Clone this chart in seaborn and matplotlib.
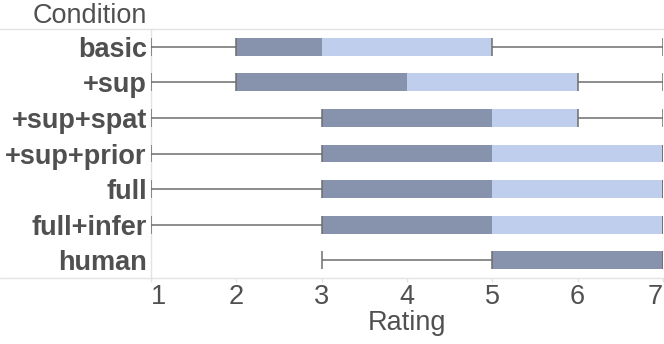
import pandas as pd
import matplotlib
matplotlib.use("Agg")
import matplotlib.pyplot as plt
from matplotlib.lines import Line2D
import seaborn as sns

# Box summaries (rating scale 1-7)
conditions = ['basic', '+sup', '+sup+spat', '+sup+prior', 'full', 'full+infer', 'human']
mins = [1, 1, 1, 1, 1, 1, 3]
q1s = [2, 2, 3, 3, 3, 3, 5]
medians = [3, 4, 5, 5, 5, 5, 7]
q3s = [5, 6, 6, 7, 7, 7, 7]
maxs = [7, 7, 7, 7, 7, 7, 7]
rating_ticks = [1, 2, 3, 4, 5, 6, 7]

df = pd.DataFrame({'Condition': conditions, 'min': mins, 'q1': q1s,
                   'median': medians, 'q3': q3s, 'max': maxs})

sns.set_theme(style='white')
plt.rcParams['font.family'] = ['Liberation Sans', 'DejaVu Sans']

dark = '#8792ad'
light = '#bfceec'
rule = '#6e6e6e'
grid = '#e3e3e3'
text = '#505050'

W, H = 664, 344
fig = plt.figure(figsize=(W / 100, H / 100), dpi=100)
ax = fig.add_axes([151 / W, 1 - 278 / H, 512 / W, 249 / H])

# layered bars: light up to q3, dark up to median, white up to q1
sns.barplot(data=df, x='q3', y='Condition', orient='h', color=light, saturation=1,
            width=0.5, linewidth=0, errorbar=None, ax=ax)
sns.barplot(data=df, x='median', y='Condition', orient='h', color=dark, saturation=1,
            width=0.5, linewidth=0, errorbar=None, ax=ax)
sns.barplot(data=df, x='q1', y='Condition', orient='h', color='white', saturation=1,
            width=0.5, linewidth=0, errorbar=None, ax=ax)

ypos = range(len(conditions))
ax.hlines(ypos, df['min'], df['q1'], color=rule, lw=1.1, zorder=3)
ax.hlines(ypos, df['q3'], df['max'], color=rule, lw=1.1, zorder=3)
for col in ['min', 'q1', 'q3', 'max']:
    ax.vlines(df[col], [y - 0.25 for y in ypos], [y + 0.25 for y in ypos],
              color=rule, lw=1.1, zorder=3)

ax.set_xlim(1, 7)
ax.set_ylim(6.5, -0.5)
ax.set_xticks(rating_ticks)
ax.set_xticklabels([str(t) for t in rating_ticks], fontsize=19.5, color=text)
for i, lab in enumerate(ax.get_xticklabels()):
    if i == 0:
        lab.set_ha('left')
    elif i == len(rating_ticks) - 1:
        lab.set_ha('right')
ax.tick_params(axis='x', bottom=True, length=3, width=1, color=grid, pad=1.5)
ax.tick_params(axis='y', left=False, length=0, pad=3)
for lab in ax.get_yticklabels():
    lab.set_fontsize(19.5)
    lab.set_fontweight('bold')
    lab.set_color(text)

ax.set_xlabel('Rating', fontsize=19.5, color=text, labelpad=0)
ax.set_ylabel('')
for s in ['top', 'right', 'bottom']:
    ax.spines[s].set_visible(False)
ax.spines['left'].set_color(grid)
ax.spines['left'].set_linewidth(1)

# header and bottom rules spanning the full width
for yy in [29, 278]:
    fig.add_artist(Line2D([0, 1], [1 - yy / H, 1 - yy / H], color=grid, lw=1))
fig.text(147 / W, 1 - 23 / H, 'Condition', ha='right', va='baseline',
         fontsize=19.5, color=text)

fig.savefig('out.png', dpi=100)
